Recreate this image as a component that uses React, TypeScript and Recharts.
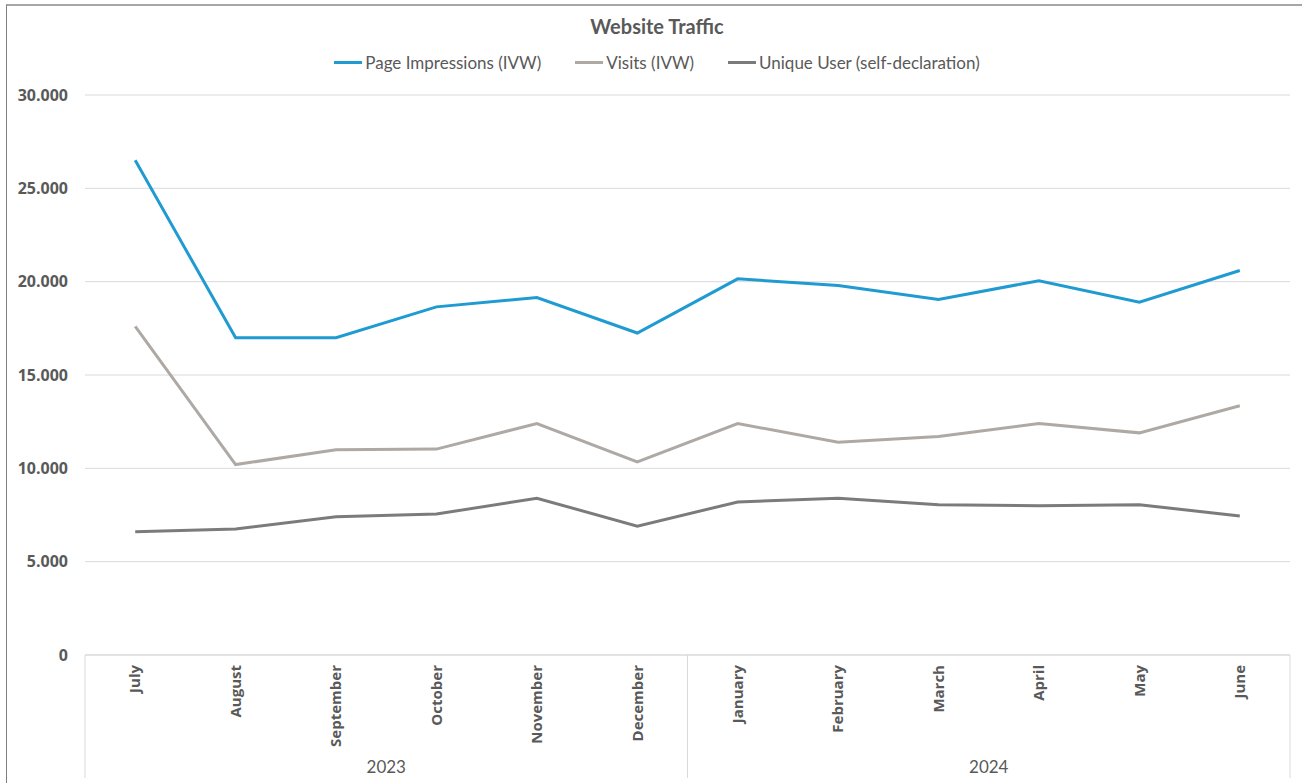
import React from "react";
import { CartesianGrid, Legend, Line, LineChart, XAxis, YAxis } from "recharts";

const MONTHS = ["July", "August", "September", "October", "November", "December", "January", "February", "March", "April", "May", "June"];
const YEARS = ["2023", "2023", "2023", "2023", "2023", "2023", "2024", "2024", "2024", "2024", "2024", "2024"];
const PAGE_IMPRESSIONS = [26500, 17000, 17000, 18650, 19150, 17250, 20150, 19800, 19050, 20050, 18900, 20600];
const VISITS = [17600, 10200, 11000, 11030, 12400, 10350, 12400, 11400, 11700, 12400, 11900, 13350];
const UNIQUE_USERS = [6600, 6750, 7400, 7550, 8400, 6900, 8200, 8400, 8050, 8000, 8050, 7450];
const Y_TICKS = [0, 5000, 10000, 15000, 20000, 25000, 30000];

const SERIES = [
  { key: "pi", name: "Page Impressions (IVW)", color: "#1f9bd1" },
  { key: "visits", name: "Visits (IVW)", color: "#aea9a4" },
  { key: "uu", name: "Unique User (self-declaration)", color: "#7b7b7b" },
];

const data = MONTHS.map((m, i) => ({
  month: m,
  year: YEARS[i],
  pi: PAGE_IMPRESSIONS[i],
  visits: VISITS[i],
  uu: UNIQUE_USERS[i],
}));

const W = 1302;
const H = 783;
const Y_W = 85;
const RIGHT = 12;
const HEAD_H = 95;
const X_H = 128;
const BAND = (W - Y_W - RIGHT) / MONTHS.length;
const TEXT = "#595959";
const GRID = "#d9d9d9";

const fmt = (v: number) => v.toLocaleString("de-DE");

function Header() {
  return (
    <div style={{ height: HEAD_H, width: W, paddingLeft: 12, boxSizing: "border-box", fontFamily: "Lato, sans-serif", color: TEXT }}>
      <div style={{ textAlign: "center", fontWeight: 700, fontSize: 20, paddingTop: 14, height: 24, lineHeight: "24px" }}>Website Traffic</div>
      <div style={{ display: "flex", justifyContent: "center", gap: 34, marginTop: 14, fontSize: 17 }}>
        {SERIES.map((s) => (
          <span key={s.key} style={{ display: "flex", alignItems: "center", gap: 3 }}>
            <span style={{ display: "inline-block", width: 28, height: 3, background: s.color }} />
            {s.name}
          </span>
        ))}
      </div>
    </div>
  );
}

// month label + year row + group separators
function MonthTick(props: any) {
  const { x, payload } = props;
  const i = payload.index as number;
  const top = H - X_H;
  const yr = YEARS[i];
  const first = i === 0 || YEARS[i - 1] !== yr;
  const last = i === YEARS.length - 1;
  const lastOfGroup = YEARS.lastIndexOf(yr);
  return (
    <g>
      <text
        x={x}
        y={top + 10}
        transform={`rotate(-90 ${x} ${top + 10})`}
        textAnchor="end"
        dy="0.35em"
        fill={TEXT}
        fontSize={15}
        fontWeight={700}
        fontFamily="Open Sans"
      >
        {payload.value}
      </text>
      {first && <line x1={x - BAND / 2} x2={x - BAND / 2} y1={top} y2={top + 123} stroke={GRID} />}
      {last && <line x1={x + BAND / 2} x2={x + BAND / 2} y1={top} y2={top + 123} stroke={GRID} />}
      {first && (
        <text
          x={x + ((lastOfGroup - i) * BAND) / 2}
          y={top + 112}
          dy="0.35em"
          textAnchor="middle"
          fill={TEXT}
          fontSize={17}
          fontFamily="Lato"
        >
          {yr}
        </text>
      )}
    </g>
  );
}

export default function App() {
  return (
    <div style={{ position: "fixed", left: 0, top: 0, width: W, height: H, background: "#fff" }}>
      <div style={{ position: "absolute", left: 6, top: 4, right: -10, bottom: -10, borderTop: "2px solid #a6a6a6", borderLeft: "1px solid #7f7f7f" }} />
      <div style={{ position: "absolute", left: 0, top: 0 }}>
        <LineChart width={W} height={H} data={data} margin={{ top: 0, right: RIGHT, bottom: 0, left: 0 }}>
          <Legend verticalAlign="top" align="center" content={() => <Header />} wrapperStyle={{ left: 0, top: 0, width: W }} />
          <CartesianGrid stroke={GRID} vertical={false} />
          <XAxis
            dataKey="month"
            interval={0}
            height={X_H}
            padding={{ left: BAND / 2, right: BAND / 2 }}
            tickLine={false}
            axisLine={{ stroke: GRID }}
            tick={<MonthTick />}
          />
          <YAxis
            width={Y_W}
            domain={[0, 30000]}
            ticks={Y_TICKS}
            tickFormatter={fmt}
            tickLine={false}
            axisLine={false}
            tickMargin={11}
            tick={{ fill: TEXT, fontSize: 16, fontWeight: 700, fontFamily: "Open Sans" }}
          />
          {SERIES.map((s) => (
            <Line
              key={s.key}
              dataKey={s.key}
              name={s.name}
              stroke={s.color}
              strokeWidth={3}
              dot={false}
              activeDot={false}
              isAnimationActive={false}
            />
          ))}
        </LineChart>
      </div>
    </div>
  );
}
